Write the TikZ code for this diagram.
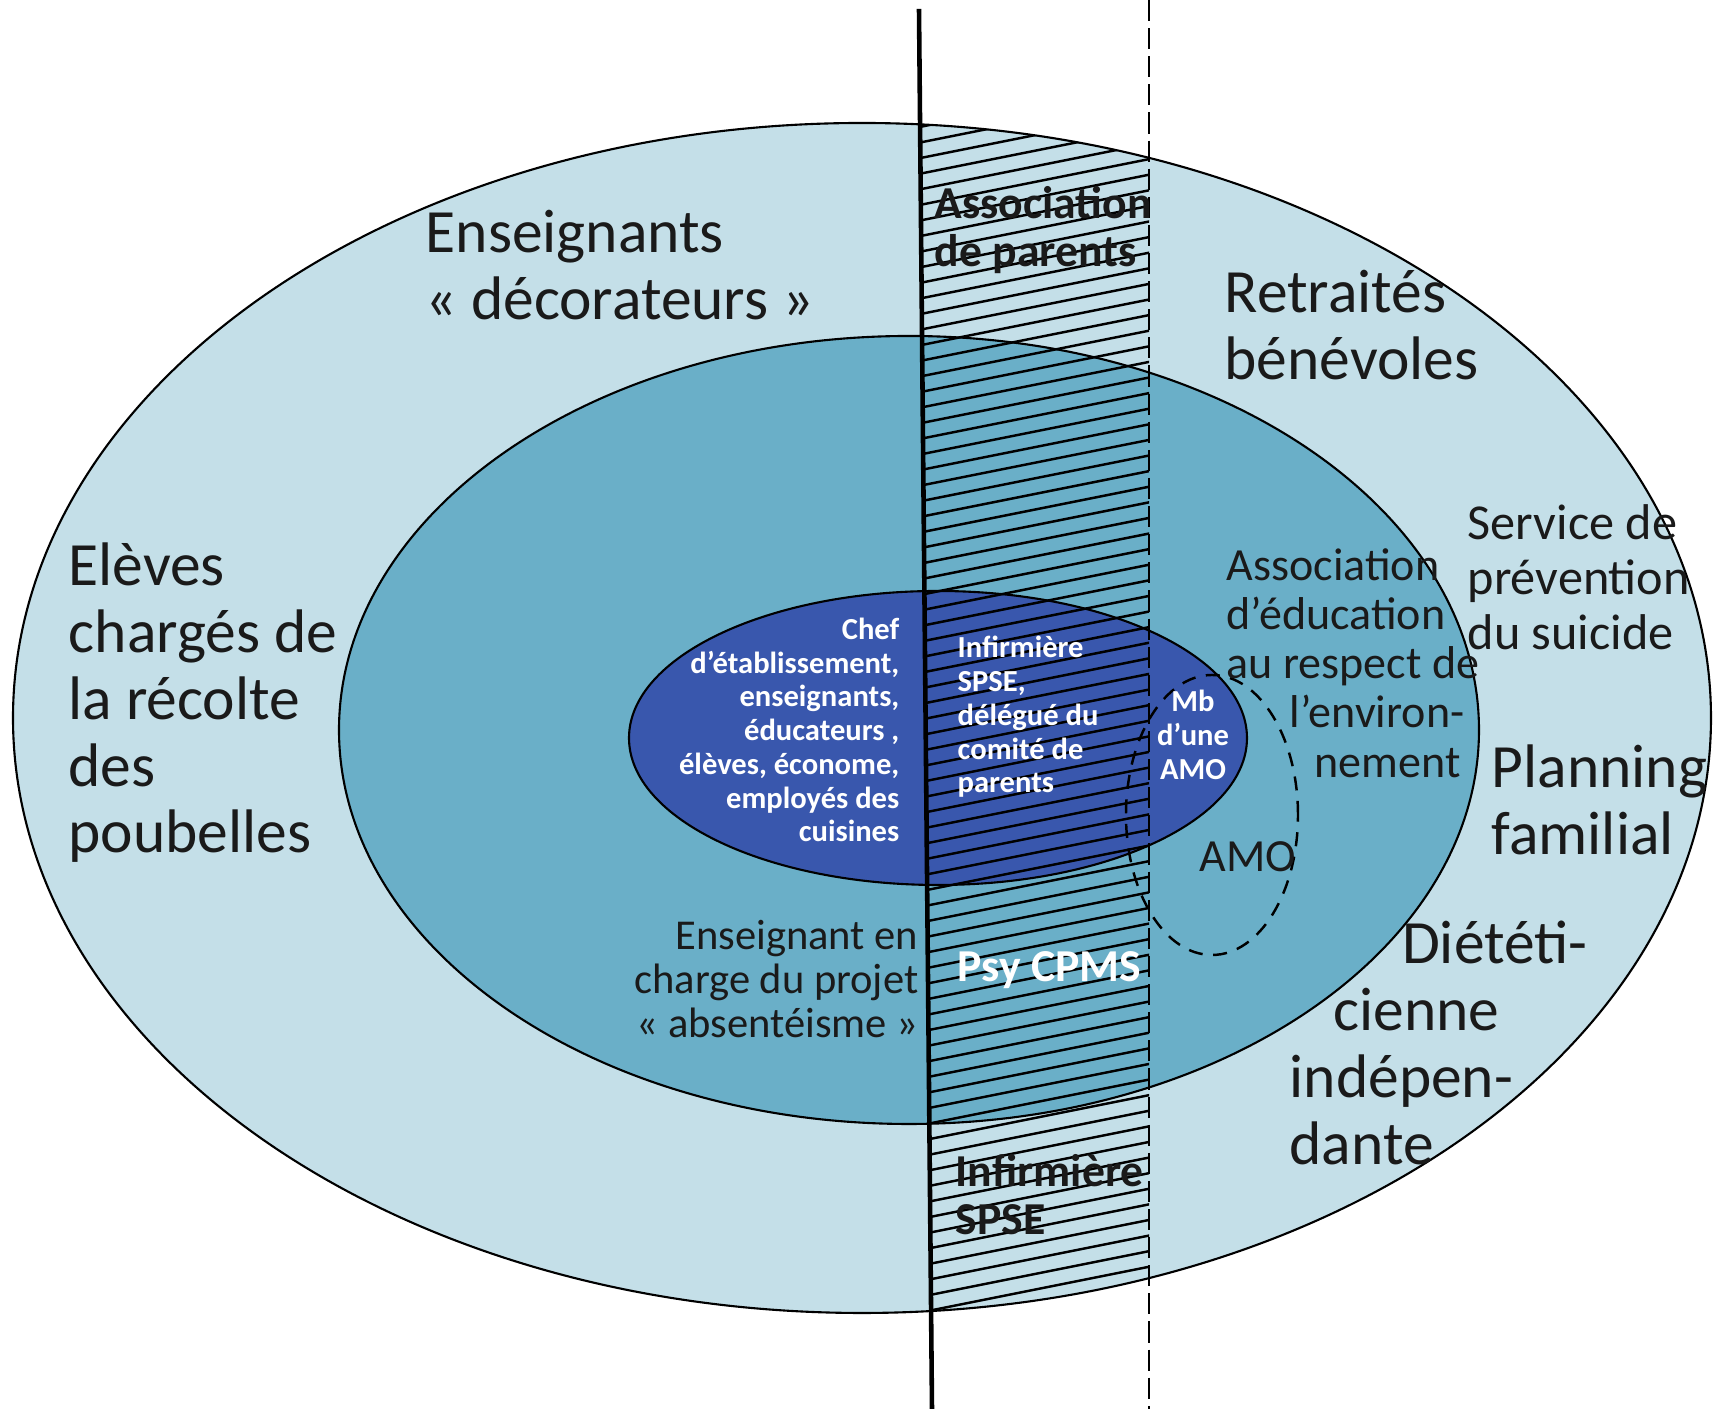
\documentclass[tikz,border=0pt]{standalone}
\usepackage{fontspec}
\setmainfont{Carlito}
\usepackage{tikz}

\definecolor{bleuclair}{HTML}{C4DFE8}
\definecolor{bleumoyen}{HTML}{6AAFC8}
\definecolor{bleufonce}{HTML}{3957AD}
\definecolor{encre}{HTML}{1A1A1A}

\begin{document}
\begin{tikzpicture}[
	contour/.style={draw=black,line width=0.6pt},
	hachure/.style={line width=0.7pt},
	grand/.style={font=\fontsize{17.5}{19}\selectfont,text=encre,align=left,inner sep=0pt},
	moyen/.style={font=\fontsize{13.1}{14}\selectfont,text=encre,inner sep=0pt},
	petit/.style={font=\bfseries\fontsize{8.7}{9.6}\selectfont,text=white,inner sep=0pt},
	gras/.style={font=\bfseries\fontsize{13}{13.7}\selectfont,inner sep=0pt,align=left}]

	\useasboundingbox (0,0) rectangle (17.16,14.09);

	% centres des cercles
	\coordinate (cext) at (8.62,6.91);
	\coordinate (cmil) at (9.09,6.79);
	\coordinate (cint) at (9.38,6.71);
	\coordinate (camo) at (12.12,5.94);

	% axes
	\coordinate (axehaut) at (9.19,14.00);
	\coordinate (axebas) at (9.32,0);
	\coordinate (tirethaut) at (11.49,14.09);
	\coordinate (tiretbas) at (11.49,0);

	% les trois ellipses
	\fill[bleuclair] (cext) ellipse [x radius=8.49,y radius=5.95];
	\draw[contour] (cext) ellipse [x radius=8.49,y radius=5.95];
	\fill[bleumoyen] (cmil) ellipse [x radius=5.70,y radius=3.94];
	\draw[contour] (cmil) ellipse [x radius=5.70,y radius=3.94];
	\fill[bleufonce] (cint) ellipse [x radius=3.09,y radius=1.47];
	\draw[contour] (cint) ellipse [x radius=3.09,y radius=1.47];

	% zone hachuree
	\begin{scope}
		\clip (cext) ellipse [x radius=8.49,y radius=5.95];
		\clip (axebas) -- (axehaut) -- (tirethaut) -- (tiretbas) -- cycle;
		\foreach \i in {0,...,82}
			\draw[hachure] (9.0,{0.3+0.156*\i}) -- ++(2.6,0.52);
	\end{scope}

	% AMO en pointilles
	\draw[dashed,line width=0.7pt,dash pattern=on 4pt off 3pt] (camo) ellipse [x radius=0.86,y radius=1.40];

	% les deux lignes verticales
	\draw[line width=1.3pt] (axehaut) -- (axebas);
	\draw[line width=0.8pt,dash pattern=on 6pt off 2pt] (tirethaut) -- (tiretbas);

	% cercle exterieur
	\node[grand,anchor=west] (decor) at (4.25,11.44) {Enseignants\\« décorateurs »};
	\node[grand,anchor=west] (retraites) at (12.24,10.84) {Retraités\\bénévoles};
	\node[grand,anchor=west] (poubelles) at (0.68,7.06) {Elèves\\chargés de\\la récolte\\des\\poubelles};
	\node[grand,anchor=west] (planning) at (14.91,6.09) {Planning\\familial};
	\node[grand,anchor=west] (dietet) at (12.89,3.66) {\hspace*{32pt}Diététi-\\\hspace*{12.5pt}cienne\\indépen-\\dante};
	\node[font=\fontsize{14.3}{15.6}\selectfont,text=encre,inner sep=0pt,align=left,anchor=west] (suicide) at (14.67,8.32) {Service de\\prévention\\du suicide};

	% cercle du milieu
	\node[moyen,align=left,anchor=west] (environ) at (12.26,7.46) {Association\\d’éducation\\au respect de\\\hspace*{18pt}l’environ-\\\hspace*{25pt}nement};
	\node[moyen] (amo) at (12.48,5.52) {AMO};
	\node[font=\fontsize{12.1}{12.5}\selectfont,text=encre,inner sep=0pt,align=right,anchor=east] (absent) at (9.19,4.30) {Enseignant en\\charge du projet\\« absentéisme »};

	% cercle interieur
	\node[petit,align=right,anchor=east] (chef) at (9.00,6.79) {Chef\\d’établissement,\\enseignants,\\éducateurs ,\\élèves, économe,\\employés des\\cuisines};
	\node[petit,align=left,anchor=west] (infint) at (9.57,6.92) {Infirmière\\SPSE,\\délégué du\\comité de\\parents};
	\node[petit,align=center] (mbamo) at (11.93,6.74) {Mb\\d’une\\AMO};

	% dans la bande hachuree
	\node[gras,text=encre,anchor=west] (assoc) at (9.34,11.79) {Association\\de parents};
	\node[gras,text=white,anchor=west] (psy) at (9.57,4.39) {Psy CPMS};
	\node[gras,text=encre,anchor=west] (infext) at (9.55,2.14) {Infirmière\\SPSE};
\end{tikzpicture}
\end{document}
